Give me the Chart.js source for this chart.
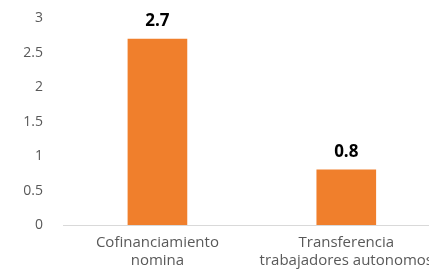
<!DOCTYPE html>
<html>
<head>
<meta charset="utf-8">
<script src="https://cdn.jsdelivr.net/npm/chart.js@4/dist/chart.umd.min.js"></script>
<style>
  html, body { margin: 0; padding: 0; background: #fff; overflow: hidden; }
  #wrap { width: 429px; height: 279px; overflow: hidden; }
  #barChart { display: block; margin-top: -10px; }
</style>
</head>
<body>
<div id="wrap"><canvas id="barChart" width="442" height="289"></canvas></div>
<script>
const categories = [["Cofinanciamiento", "nomina"], ["Transferencia", "trabajadores autonomos"]];
const values = [2.7, 0.8];
const yTicks = [0, 0.5, 1, 1.5, 2, 2.5, 3];

const barColor = "#F07F2C";
const labelFont = "'Open Sans', sans-serif";

// etiquetas de valor encima de cada barra
const valueLabels = {
    id: "valueLabels",
    afterDatasetsDraw(chart) {
        const ctx = chart.ctx;
        const meta = chart.getDatasetMeta(0);
        ctx.save();
        ctx.fillStyle = "#000";
        ctx.font = "bold 17px " + labelFont;
        ctx.textAlign = "center";
        ctx.textBaseline = "alphabetic";
        meta.data.forEach((bar, i) => {
            ctx.fillText(values[i].toFixed(1), bar.x, bar.y - 13);
        });
        ctx.restore();
    }
};

const ctx = document.getElementById("barChart").getContext("2d");
new Chart(ctx, {
    type: "bar",
    data: {
        labels: categories,
        datasets: [{
            data: values,
            backgroundColor: barColor,
            barThickness: 59
        }]
    },
    options: {
        responsive: false,
        animation: false,
        layout: { padding: 0 },
        plugins: {
            legend: { display: false },
            tooltip: { enabled: false }
        },
        scales: {
            x: {
                grid: { display: false, drawTicks: false },
                border: { display: true, color: "#d9d9d9", width: 1 },
                afterFit(scale) {
                    scale.height = 54;
                },
                ticks: {
                    color: "#595959",
                    font: { family: labelFont, size: 15, lineHeight: 1.2 },
                    padding: 9,
                    maxRotation: 0
                }
            },
            y: {
                min: 0,
                max: 3,
                grid: { display: false, drawTicks: false },
                border: { display: false },
                afterBuildTicks(scale) {
                    scale.ticks = yTicks.map(v => ({ value: v }));
                },
                afterFit(scale) {
                    scale.width = 63;
                },
                ticks: {
                    color: "#595959",
                    font: { family: labelFont, size: 14 },
                    padding: 20,
                    callback: v => String(v)
                }
            }
        }
    },
    plugins: [valueLabels]
});
</script>
</body>
</html>
